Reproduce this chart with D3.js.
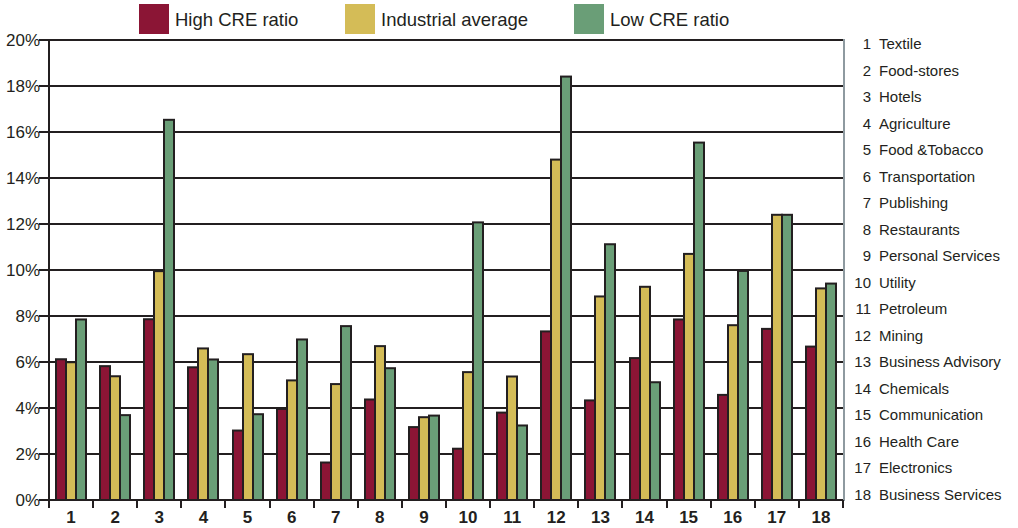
<!DOCTYPE html>
<html><head><meta charset="utf-8">
<script src="https://cdn.jsdelivr.net/npm/d3@7"></script>
<style>body{margin:0;background:#fff}svg{display:block}text{font-family:"Liberation Sans",Arial,sans-serif;fill:#231f20}</style>
</head><body><svg id="c" width="1018" height="528"></svg>
<script>
const categories = ["1","2","3","4","5","6","7","8","9","10","11","12","13","14","15","16","17","18"];
const industryNames = ["Textile","Food-stores","Hotels","Agriculture","Food &Tobacco","Transportation","Publishing","Restaurants","Personal Services","Utility","Petroleum","Mining","Business Advisory","Chemicals","Communication","Health Care","Electronics","Business Services"];
const seriesNames = ["High CRE ratio","Industrial average","Low CRE ratio"];
const highCRE = [6.12,5.82,7.86,5.77,3.02,3.96,1.63,4.37,3.17,2.23,3.80,7.33,4.33,6.17,7.85,4.57,7.44,6.67];
const industrialAvg = [5.99,5.38,9.95,6.59,6.34,5.20,5.04,6.69,3.60,5.56,5.37,14.80,8.85,9.27,10.70,7.60,12.40,9.20];
const lowCRE = [7.85,3.69,16.53,6.11,3.73,6.98,7.56,5.73,3.67,12.07,3.24,18.41,11.12,5.12,15.54,9.96,12.40,9.41];
const yTicks = [0,2,4,6,8,10,12,14,16,18,20];
const colors = ["#8b1535","#d4bc57","#6a9e77"];

const svg = d3.select("#c");
const ink = "#231f20";
const x = d3.scaleBand().domain(categories).range([49,843]).padding(0);
const y = d3.scaleLinear().domain([0,20]).range([500,40]);
const xs = d3.scaleBand().domain(seriesNames).range([0,30]);

// gridlines
svg.append("g").selectAll("line").data(yTicks).join("line")
  .attr("x1",39).attr("x2",843).attr("y1",d=>y(d)).attr("y2",d=>y(d))
  .attr("stroke",ink).attr("stroke-width",2);
// y labels
svg.append("g").selectAll("text").data(yTicks).join("text")
  .attr("x",40).attr("y",d=>y(d)+6).attr("text-anchor","end")
  .attr("font-size",17).text(d=>d+"%");
// right gray line
svg.append("line").attr("x1",844).attr("x2",844).attr("y1",39).attr("y2",501)
  .attr("stroke","#8e9aa0").attr("stroke-width",2);
// y axis line
svg.append("line").attr("x1",49).attr("x2",49).attr("y1",39).attr("y2",508)
  .attr("stroke",ink).attr("stroke-width",2);
// category ticks
const bounds = categories.map(c=>x(c)).concat([x(categories[17])+x.bandwidth()]);
svg.append("g").selectAll("line").data(bounds).join("line")
  .attr("x1",d=>Math.round(d)).attr("x2",d=>Math.round(d)).attr("y1",500).attr("y2",508)
  .attr("stroke",ink).attr("stroke-width",2);

// bars
const data = [highCRE,industrialAvg,lowCRE];
data.forEach((vals,si)=>{
  svg.append("g").selectAll("rect").data(vals).join("rect")
    .attr("x",(d,i)=>Math.round(x(categories[i])+(x.bandwidth()-30)/2)+xs(seriesNames[si]))
    .attr("width",xs.bandwidth())
    .attr("y",d=>y(d))
    .attr("height",d=>y(0)-y(d))
    .attr("fill",colors[si]).attr("stroke",ink).attr("stroke-width",2);
});
// redraw bottom axis line on top
svg.append("line").attr("x1",39).attr("x2",843).attr("y1",y(0)).attr("y2",y(0))
  .attr("stroke",ink).attr("stroke-width",2);

// x labels
svg.append("g").selectAll("text").data(categories).join("text")
  .attr("x",d=>x(d)+x.bandwidth()/2).attr("y",523).attr("text-anchor","middle")
  .attr("font-size",17).attr("font-weight","bold").text(d=>d);

// legend
const legX = [139,345,574];
seriesNames.forEach((s,i)=>{
  svg.append("rect").attr("x",legX[i]).attr("y",4).attr("width",30).attr("height",30).attr("fill",colors[i]);
  svg.append("text").attr("x",legX[i]+36).attr("y",26).attr("font-size",18.5).attr("fill","#333").text(s);
});

// right list
const rowY = d3.scalePoint().domain(categories).range([44,495]);
const lst = svg.append("g");
lst.selectAll("text.n").data(categories).join("text").attr("class","n")
  .attr("x",871).attr("y",d=>rowY(d)+5).attr("text-anchor","end").attr("font-size",15).text(d=>d);
lst.selectAll("text.l").data(industryNames).join("text").attr("class","l")
  .attr("x",879).attr("y",(d,i)=>rowY(categories[i])+5).attr("font-size",15).text(d=>d);
</script></body></html>
